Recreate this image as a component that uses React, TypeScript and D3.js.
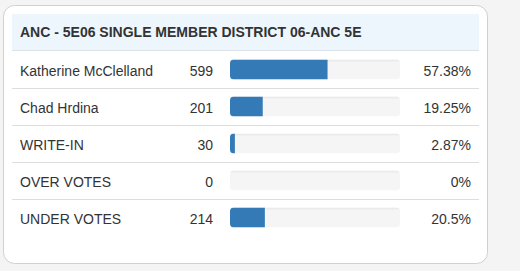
import React from "react";
import * as d3 from "d3";

const title = "ANC - 5E06 SINGLE MEMBER DISTRICT 06-ANC 5E";
const candidates = ["Katherine McClelland", "Chad Hrdina", "WRITE-IN", "OVER VOTES", "UNDER VOTES"];
const votes = [599, 201, 30, 0, 214];
const percents = [57.38, 19.25, 2.87, 0, 20.5];

const W = 520;
const H = 271;
const font = "'Liberation Sans', Arial, Helvetica, sans-serif";

export default function App() {
  const y = d3.scaleBand<string>().domain(candidates).range([51, 236]).padding(0);
  const x = d3.scaleLinear().domain([0, 100]).range([230, 400]);
  const barH = 20;
  return (
    <svg width={W} height={H} style={{ position: "absolute", left: 0, top: 0 }} fontFamily={font}>
      <defs>
        <clipPath id="barclip">
          <rect x={0} y={0} width={x(100) - x(0)} height={barH} rx={4} />
        </clipPath>
      </defs>
      <rect x={0} y={0} width={W} height={H} fill="#f4f4f4" />
      <rect x={3.5} y={5.5} width={484} height={258} rx={11} fill="#fff" stroke="#d0d0d0" />
      <rect x={12} y={14} width={467} height={37} fill="#eef6fd" />
      <line x1={12} x2={479} y1={50.5} y2={50.5} stroke="#dde3e8" />
      <text x={20} y={37} fontSize={14} fontWeight="bold" fill="#333">{title}</text>
      {candidates.map((c, i) => {
        const top = y(c)!;
        const cy = top + y.bandwidth() / 2;
        const by = cy - barH / 2;
        return (
          <g key={c}>
            {i < candidates.length - 1 && (
              <line x1={12} x2={479} y1={top + y.bandwidth() + 0.5} y2={top + y.bandwidth() + 0.5} stroke="#ddd" />
            )}
            <text x={20} y={cy + 6} fontSize={14} fill="#333">{c}</text>
            <text x={213} y={cy + 6} fontSize={14} fill="#333" textAnchor="end">{votes[i]}</text>
            <g transform={`translate(${x(0)},${by})`}>
              <g clipPath="url(#barclip)">
                <rect x={0} y={0} width={x(100) - x(0)} height={barH} fill="#f5f5f5" />
                <rect x={0} y={0} width={x(100) - x(0)} height={2} fill="#ebebeb" />
                <rect x={0} y={0} width={x(percents[i]) - x(0)} height={barH} fill="#337ab7" />
              </g>
            </g>
            <text x={471} y={cy + 6} fontSize={14} fill="#333" textAnchor="end">{`${percents[i]}%`}</text>
          </g>
        );
      })}
    </svg>
  );
}
